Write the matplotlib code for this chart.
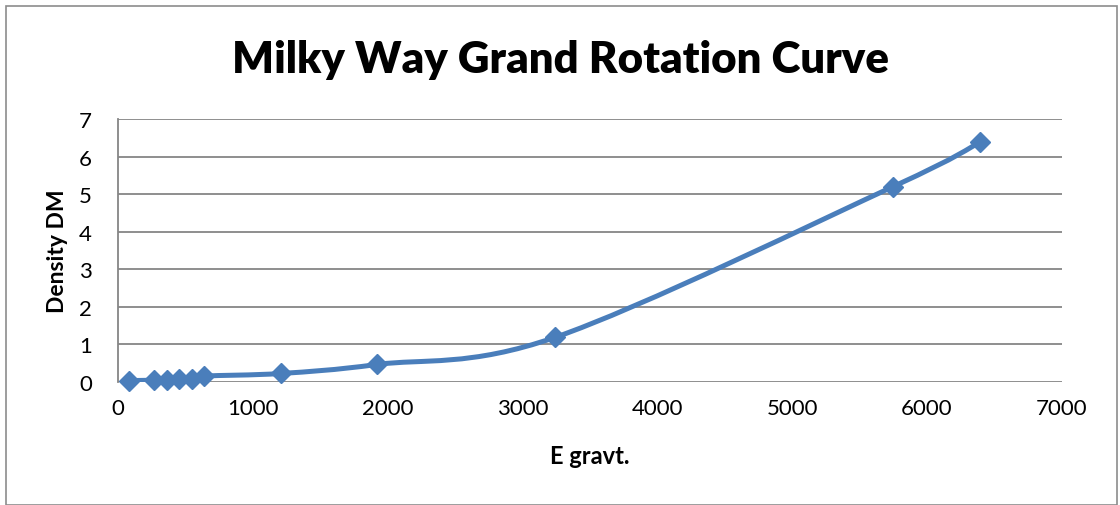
import matplotlib
matplotlib.use("Agg")
import matplotlib.pyplot as plt
from matplotlib.path import Path
from matplotlib.patches import PathPatch, Rectangle
import numpy as np

# ---- data ----
e_gravt = [82, 268, 360, 453, 545, 638, 1210, 1923, 3240, 5750, 6394]
density_dm = [0.03, 0.04, 0.05, 0.06, 0.08, 0.15, 0.22, 0.46, 1.18, 5.2, 6.38]
x_ticks = [0, 1000, 2000, 3000, 4000, 5000, 6000, 7000]
y_ticks = [0, 1, 2, 3, 4, 5, 6, 7]
title = "Milky Way Grand Rotation Curve"
x_label = "E gravt."
y_label = "Density DM"

FONT = "Lato"
BLUE = "#4A7EBB"
GRID = "#868686"

W, H = 1120, 506
fig = plt.figure(figsize=(W / 100, H / 100), dpi=100)
fig.patch.set_facecolor("white")

# outer chart border
fig.add_artist(Rectangle((6 / W, 0.0), (1117 - 6) / W, 1 - 7 / H,
                         transform=fig.transFigure, fill=False,
                         edgecolor="#8c8c8c", linewidth=1.2))

left, right, top, bottom = 118.3, 1061.7, 120.0, 382.7
ax = fig.add_axes([left / W, 1 - bottom / H, (right - left) / W, (bottom - top) / H])
ax.set_xlim(x_ticks[0], x_ticks[-1])
ax.set_ylim(y_ticks[0], y_ticks[-1])
ax.set_xticks(x_ticks)
ax.set_yticks(y_ticks)
ax.set_xticklabels([str(v) for v in x_ticks], fontfamily=FONT, fontsize=16)
ax.set_yticklabels([str(v) for v in y_ticks], fontfamily=FONT, fontsize=16)
ax.tick_params(axis="both", length=0)
ax.tick_params(axis="y", pad=19)
ax.tick_params(axis="x", pad=12)
ax.grid(axis="y", color=GRID, linewidth=1.3)
ax.set_axisbelow(True)
for s in ["top", "right", "bottom"]:
    ax.spines[s].set_visible(False)
ax.spines["left"].set_color(GRID)
ax.spines["left"].set_linewidth(1.3)

# smoothed line (Excel-style Bezier through the points)
pts = np.column_stack([e_gravt, density_dm]).astype(float)
n = len(pts)
verts = [pts[0]]
codes = [Path.MOVETO]
for i in range(n - 1):
    p0 = pts[i - 1] if i > 0 else pts[i]
    p1 = pts[i]
    p2 = pts[i + 1]
    p3 = pts[i + 2] if i + 2 < n else pts[i + 1]
    c1 = p1 + (p2 - p0) / 6.0
    c2 = p2 - (p3 - p1) / 6.0
    verts += [c1, c2, p2]
    codes += [Path.CURVE4] * 3
ax.add_patch(PathPatch(Path(verts, codes), facecolor="none", edgecolor=BLUE,
                       linewidth=3.6, capstyle="round", joinstyle="round", zorder=3))
ax.plot(e_gravt, density_dm, linestyle="none", marker="D", markersize=10,
        color=BLUE, markeredgecolor=BLUE, markeredgewidth=1, zorder=4, clip_on=False)

fig.text(561 / W, 1 - 60 / H, title, ha="center", va="center",
         fontfamily=FONT, fontweight="heavy", fontsize=31.5)
fig.text(590 / W, 1 - 457 / H, x_label, ha="center", va="center",
         fontfamily=FONT, fontweight="bold", fontsize=17)
fig.text(57 / W, 1 - 251 / H, y_label, ha="center", va="center", rotation=90,
         fontfamily=FONT, fontweight="bold", fontsize=16.5)

fig.savefig("out.png", dpi=100)
